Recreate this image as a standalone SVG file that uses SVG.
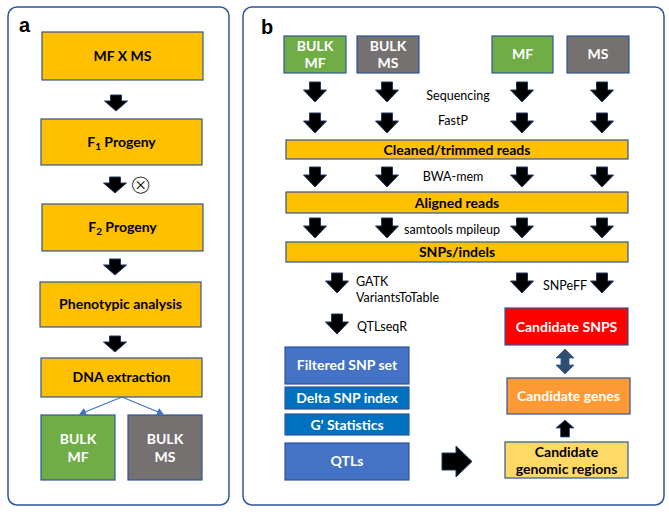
<svg xmlns="http://www.w3.org/2000/svg" width="669" height="512" viewBox="0 0 669 512">
<defs>
<style>
.panel{fill:#fff;stroke:#2F5597;stroke-width:1.5}
.box{stroke:#2F5597;stroke-width:1.2}
.or{fill:#FFC000}
.gr{fill:#70AD47}
.gy{fill:#767171}
.bl{fill:#4472C4}
.db{fill:#0070C0}
.rd{fill:#FF0000}
.og{fill:#FF9933}
.ly{fill:#FFD966}
.t{font-family:Lato,"Liberation Sans",sans-serif;font-weight:bold;font-size:14px;text-anchor:middle;fill:#000}
.w{fill:#fff}
.s{font-family:Lato,"Liberation Sans",sans-serif;font-size:12.5px;fill:#000}
.lab{font-family:"Liberation Sans",Arial,sans-serif;font-weight:bold;font-size:20px;fill:#000}
.arr{fill:#000;stroke:#1F3864;stroke-width:1}
.thin{stroke:#4472C4;stroke-width:1.3;fill:none}
</style>
<path id="dnA" d="M-5.5,0 H5.5 V6 H11.5 L0,16 L-11.5,6 H-5.5 Z"/>
<path id="dnB" d="M-5.5,0 H5.5 V8 H11.5 L0,20 L-11.5,8 H-5.5 Z"/>
<marker id="ah" markerWidth="8" markerHeight="8" refX="6" refY="4" orient="auto" markerUnits="userSpaceOnUse">
<path d="M0,0 L7,4 L0,8 Z" fill="#4472C4"/>
</marker>
</defs>

<rect class="panel" x="8" y="7" width="221" height="498" rx="9"/>
<rect class="panel" x="243" y="7" width="421" height="498" rx="9"/>
<text class="lab" x="19" y="32">a</text>
<text class="lab" x="261" y="34">b</text>

<g id="a-mfxms"><rect class="box or" x="42" y="32" width="161" height="48"/><text class="t" x="122.5" y="61">MF X MS</text></g>
<g id="a-f1"><rect class="box or" x="41" y="119" width="161" height="46"/><text class="t" x="121.5" y="147">F<tspan font-size="10" dy="3">1</tspan><tspan dy="-3"> Progeny</tspan></text></g>
<g id="a-f2"><rect class="box or" x="42" y="204" width="161" height="47"/><text class="t" x="122.5" y="232">F<tspan font-size="10" dy="3">2</tspan><tspan dy="-3"> Progeny</tspan></text></g>
<g id="a-pheno"><rect class="box or" x="40" y="282" width="161" height="45"/><text class="t" x="120.5" y="309">Phenotypic analysis</text></g>
<g id="a-dna"><rect class="box or" x="41" y="358" width="161" height="39"/><text class="t" x="121.5" y="382">DNA extraction</text></g>
<g id="a-bulkmf"><rect class="box gr" x="41" y="415" width="74" height="65"/><text class="t w" x="78" y="444">BULK</text><text class="t w" x="78" y="462">MF</text></g>
<g id="a-bulkms"><rect class="box gy" x="128" y="415" width="74" height="65"/><text class="t w" x="165" y="444">BULK</text><text class="t w" x="165" y="462">MS</text></g>
<g id="a-self"><text x="140.5" y="194" font-family="DejaVu Sans,sans-serif" font-size="28" font-weight="normal" text-anchor="middle" fill="#000" stroke="#fff" stroke-width="1.1">⊗</text></g>

<g id="b-bulkmf"><rect class="box gr" x="284" y="36" width="62" height="37"/><text class="t w" x="315" y="51">BULK</text><text class="t w" x="315" y="68">MF</text></g>
<g id="b-bulkms"><rect class="box gy" x="357" y="36" width="62" height="37"/><text class="t w" x="388" y="51">BULK</text><text class="t w" x="388" y="68">MS</text></g>
<g id="b-mf"><rect class="box gr" x="492" y="36" width="61" height="37"/><text class="t w" x="522.5" y="59">MF</text></g>
<g id="b-ms"><rect class="box gy" x="567" y="36" width="62" height="37"/><text class="t w" x="598" y="59">MS</text></g>
<g id="b-clean"><rect class="box or" x="286" y="140" width="342" height="19"/><text class="t" x="457" y="155">Cleaned/trimmed reads</text></g>
<g id="b-aligned"><rect class="box or" x="286" y="192" width="342" height="21"/><text class="t" x="457" y="208">Aligned reads</text></g>
<g id="b-snps"><rect class="box or" x="286" y="242" width="342" height="20"/><text class="t" x="457" y="257">SNPs/indels</text></g>
<g id="b-cand-snps"><rect class="box rd" x="505" y="308" width="123" height="37"/><text class="t w" x="566.5" y="332">Candidate SNPS</text></g>
<g id="b-filtered"><rect class="box bl" x="285" y="347" width="124" height="37"/><text class="t w" x="347" y="370">Filtered SNP set</text></g>
<g id="b-delta"><rect class="box db" x="285" y="387" width="124" height="22"/><text class="t w" x="347" y="403">Delta SNP index</text></g>
<g id="b-gstat"><rect class="box db" x="285" y="414" width="124" height="21"/><text class="t w" x="347" y="430">G’ Statistics</text></g>
<g id="b-qtls"><rect class="box bl" x="285" y="443" width="124" height="37"/><text class="t w" x="347" y="466">QTLs</text></g>
<g id="b-genes"><rect class="box og" x="507" y="378" width="123" height="36"/><text class="t w" x="568.5" y="401">Candidate genes</text></g>
<g id="b-regions"><rect class="box ly" x="505" y="442" width="123" height="36"/><text class="t" x="566.5" y="457">Candidate</text><text class="t" x="566.5" y="474">genomic regions</text></g>

<g id="b-labels">
<text class="s" x="458" y="100" text-anchor="middle">Sequencing</text>
<text class="s" x="453" y="125" text-anchor="middle">FastP</text>
<text class="s" x="453" y="181" text-anchor="middle">BWA-mem</text>
<text class="s" x="452" y="234" text-anchor="middle">samtools mpileup</text>
<text class="s" x="356" y="286">GATK</text>
<text class="s" x="356" y="302">VariantsToTable</text>
<text class="s" x="543" y="290">SNPeFF</text>
<text class="s" x="357" y="331">QTLseqR</text>
</g>

<g id="connectors">
<use href="#dnA" class="arr" x="116" y="95"/>
<use href="#dnA" class="arr" x="115" y="177"/>
<use href="#dnA" class="arr" x="115" y="259"/>
<use href="#dnA" class="arr" x="115" y="336"/>
<line class="thin" x1="122" y1="397" x2="80" y2="414" marker-end="url(#ah)"/>
<line class="thin" x1="122" y1="397" x2="163" y2="414" marker-end="url(#ah)"/>

<use href="#dnB" class="arr" x="315" y="82"/>
<use href="#dnB" class="arr" x="387" y="82"/>
<use href="#dnB" class="arr" x="522" y="82"/>
<use href="#dnB" class="arr" x="602" y="82"/>
<use href="#dnB" class="arr" x="315" y="113"/>
<use href="#dnB" class="arr" x="387" y="113"/>
<use href="#dnB" class="arr" x="522" y="113"/>
<use href="#dnB" class="arr" x="602" y="113"/>
<use href="#dnB" class="arr" x="315" y="167"/>
<use href="#dnB" class="arr" x="387" y="167"/>
<use href="#dnB" class="arr" x="522" y="167"/>
<use href="#dnB" class="arr" x="602" y="167"/>
<use href="#dnB" class="arr" x="315" y="218"/>
<use href="#dnB" class="arr" x="387" y="218"/>
<use href="#dnB" class="arr" x="522" y="218"/>
<use href="#dnB" class="arr" x="602" y="218"/>
<use href="#dnB" class="arr" x="337" y="273"/>
<use href="#dnB" class="arr" x="522" y="273"/>
<use href="#dnB" class="arr" x="602" y="273"/>
<use href="#dnB" class="arr" x="337" y="314"/>
<path class="arr" d="M442,453 H456 V446 L472,461.5 L456,477 V470 H442 Z"/>
<path d="M565,349 L574,358 H569 V365 H574 L565,374 L556,365 H561 V358 H556 Z" fill="#2E4F6E" stroke="#2F5597" stroke-width="0.8"/>
<path d="M565,420 L574,428 H569.5 V437 H560.5 V428 H556 Z" fill="#000" stroke="#2F5597" stroke-width="0.8"/>
</g>
</svg>
